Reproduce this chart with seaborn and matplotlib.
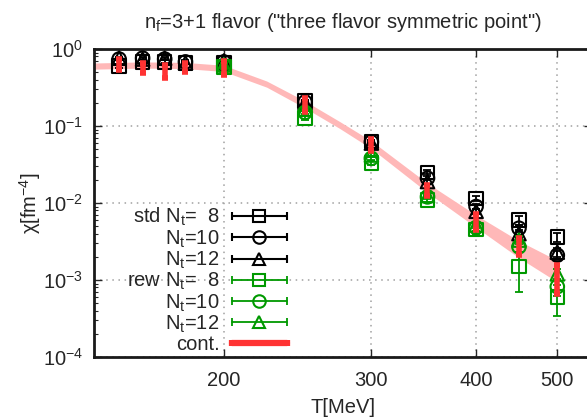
import numpy as np
import pandas as pd
import matplotlib
matplotlib.use("Agg")
import matplotlib.pyplot as plt
import seaborn as sns
from matplotlib.legend_handler import HandlerBase
from matplotlib.lines import Line2D
from matplotlib.ticker import FixedLocator, NullLocator, LogLocator, FixedFormatter

# temperatures [MeV]
T_std = [150, 160, 170, 180, 200, 250, 300, 350, 400, 450, 500]
T_rew = [200, 250, 300, 350, 400, 450, 500]

# standard (std) susceptibilities and errors
chi_std8 = [0.60, 0.68, 0.68, 0.66, 0.66, 0.21, 0.063, 0.025, 0.0115, 0.0060, 0.0036]
err_std8 = [0.03, 0.03, 0.03, 0.03, 0.03, 0.01, 0.003, 0.0015, 0.0008, 0.0008, 0.0005]
chi_std10 = [0.74, 0.76, 0.74, 0.68, 0.68, 0.205, 0.062, 0.021, 0.0090, 0.0047, 0.0021]
err_std10 = [0.03, 0.03, 0.03, 0.03, 0.03, 0.01, 0.003, 0.0012, 0.0007, 0.0005, 0.0003]
chi_std12 = [0.76, 0.74, 0.76, 0.66, 0.70, 0.20, 0.060, 0.019, 0.0078, 0.0040, 0.0023]
err_std12 = [0.03, 0.03, 0.03, 0.03, 0.03, 0.01, 0.003, 0.0012, 0.0006, 0.0005, 0.0003]

# reweighted (rew) susceptibilities and errors
chi_rew8 = [0.58, 0.127, 0.033, 0.0110, 0.0045, 0.0015, 0.00060]
err_rew8 = [0.03, 0.008, 0.002, 0.0008, 0.0005, 0.0008, 0.00026]
chi_rew10 = [0.60, 0.150, 0.038, 0.0120, 0.0048, 0.0027, 0.00082]
err_rew10 = [0.03, 0.008, 0.002, 0.0008, 0.0005, 0.0004, 0.00020]
chi_rew12 = [0.62, 0.166, 0.042, 0.0125, 0.0052, 0.0033, 0.00120]
err_rew12 = [0.03, 0.008, 0.002, 0.0008, 0.0005, 0.0004, 0.00020]

# continuum extrapolation: points and band
chi_cont = [0.64, 0.57, 0.52, 0.58, 0.58, 0.19, 0.058, 0.0147, 0.0058, 0.0028, 0.0011]
err_cont = [0.10, 0.08, 0.10, 0.08, 0.12, 0.04, 0.010, 0.0025, 0.0014, 0.0007, 0.00045]
T_band = [140, 160, 180, 200, 225, 250, 275, 300, 350, 400, 450, 500]
band_mid = [0.60, 0.62, 0.61, 0.56, 0.35, 0.19, 0.103, 0.057, 0.0157, 0.0058, 0.0025, 0.0013]
band_dex = [0.04, 0.04, 0.04, 0.04, 0.04, 0.045, 0.045, 0.05, 0.06, 0.08, 0.11, 0.14]

labels = ["std N$_\\mathregular{t}$=  8", "N$_\\mathregular{t}$=10", "N$_\\mathregular{t}$=12",
          "rew N$_\\mathregular{t}$=  8", "N$_\\mathregular{t}$=10", "N$_\\mathregular{t}$=12", "cont."]

BLACK = "#000000"
GREEN = "#009900"
RED = "#ff3333"
PINK = "#ffb8b8"
TXT = "#262626"
FS = 14.5

sns.set_theme(style="ticks")
plt.rcParams["font.family"] = ["Liberation Sans", "DejaVu Sans"]
plt.rcParams["mathtext.default"] = "regular"
plt.rcParams["text.color"] = TXT
plt.rcParams["axes.labelcolor"] = TXT
plt.rcParams["xtick.color"] = TXT
plt.rcParams["ytick.color"] = TXT

fig = plt.figure(figsize=(5.87, 4.2), dpi=100)
ax = fig.add_axes([94 / 587, 63 / 420, 498 / 587, 308 / 420])
ax.set_xscale("log")
ax.set_yscale("log")

# continuum band
lo = [m / 10 ** d for m, d in zip(band_mid, band_dex)]
hi = [m * 10 ** d for m, d in zip(band_mid, band_dex)]
ax.fill_between(T_band, lo, hi, color=PINK, lw=0, zorder=1)

series = [
    (T_std, chi_std8, err_std8, "s", BLACK),
    (T_std, chi_std10, err_std10, "o", BLACK),
    (T_std, chi_std12, err_std12, "^", BLACK),
    (T_rew, chi_rew8, err_rew8, "s", GREEN),
    (T_rew, chi_rew10, err_rew10, "o", GREEN),
    (T_rew, chi_rew12, err_rew12, "^", GREEN),
]
for i, (t, c, e, mk, col) in enumerate(series):
    z = 3 + i
    ax.errorbar(t, c, yerr=e, fmt="none", ecolor=col, elinewidth=1.3,
                capsize=3, capthick=1.3, zorder=z)
    df = pd.DataFrame({"T": t, "chi": c})
    sns.scatterplot(data=df, x="T", y="chi", marker=mk, s=95, color=col,
                    facecolor="none", edgecolor=col, linewidth=1.5,
                    legend=False, ax=ax, zorder=z)

ax.errorbar(T_std, chi_cont, yerr=err_cont, fmt="none", ecolor=RED,
            elinewidth=4, capsize=2, capthick=4, zorder=20)

ax.set_xlim(140, 550)
ax.set_ylim(1e-4, 1)
ax.xaxis.set_major_locator(FixedLocator([200, 300, 400, 500]))
ax.xaxis.set_major_formatter(FixedFormatter(["200", "300", "400", "500"]))
ax.xaxis.set_minor_locator(NullLocator())
ax.yaxis.set_major_locator(LogLocator(base=10, numticks=10))
ax.yaxis.set_minor_locator(LogLocator(base=10, subs=np.arange(2, 10), numticks=10))
ax.tick_params(which="both", direction="in", top=True, right=True, labelsize=FS)
ax.tick_params(axis="x", pad=10)
ax.tick_params(axis="y", pad=8)
ax.tick_params(which="major", length=6, width=1)
ax.tick_params(which="minor", length=3, width=0.8)
ax.grid(True, which="major", color="#a0a0a0", ls=(0, (1, 3)), lw=1.1)
for s in ["left", "bottom", "top"]:
    ax.spines[s].set_color("#1a1a1a")
    ax.spines[s].set_linewidth(2)
ax.spines["right"].set_visible(False)

ax.set_xlabel("T[MeV]", fontsize=FS, labelpad=6)
ax.set_ylabel("χ[fm$^{-4}$]", fontsize=FS, labelpad=0)
ax.set_title('n$_\\mathregular{f}$=3+1 flavor ("three flavor symmetric point")',
             fontsize=FS, pad=15)


class ErrorKey(HandlerBase):
    def __init__(self, color, marker, lw, cap):
        super().__init__()
        self.color, self.marker, self.lw, self.cap = color, marker, lw, cap

    def create_artists(self, legend, orig_handle, xdescent, ydescent,
                       width, height, fontsize, trans):
        y = height / 2 - ydescent
        x0, x1 = -xdescent, -xdescent + width
        arts = [Line2D([x0, x1], [y, y], color=self.color, lw=self.lw),
                Line2D([x0, x1], [y, y], ls="none", marker="|", ms=self.cap,
                       mew=self.lw, color=self.color)]
        if self.marker:
            arts.append(Line2D([(x0 + x1) / 2], [y], ls="none", marker=self.marker,
                               ms=9, mfc="none", mec=self.color, mew=1.5))
        for a in arts:
            a.set_transform(trans)
        return arts


keys = [(BLACK, "s", 1.5, 6), (BLACK, "o", 1.5, 6), (BLACK, "^", 1.5, 6),
        (GREEN, "s", 1.3, 6), (GREEN, "o", 1.3, 6), (GREEN, "^", 1.3, 6),
        (RED, None, 4.5, 5)]
handles = [Line2D([], []) for _ in keys]
hmap = {h: ErrorKey(*k) for h, k in zip(handles, keys)}
ax.legend(handles, labels, handler_map=hmap, markerfirst=False, frameon=False,
          fontsize=FS, handlelength=2.75, handletextpad=0.6, labelspacing=0.0,
          loc="upper right", bbox_to_anchor=(287 / 587, 1 - 206 / 420),
          bbox_transform=fig.transFigure, borderaxespad=0, borderpad=0)

fig.savefig("out.png", dpi=100)
